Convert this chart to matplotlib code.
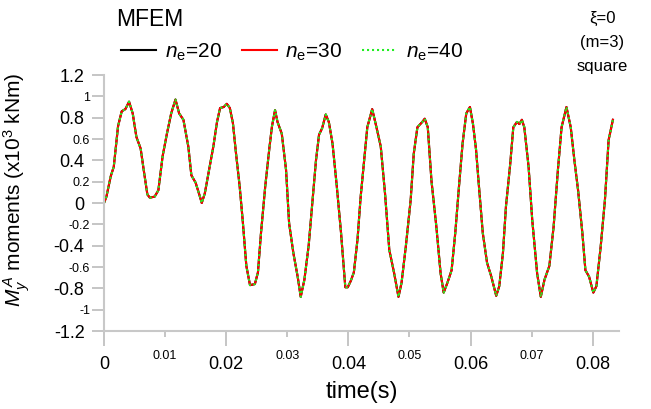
import numpy as np
import matplotlib
matplotlib.use("Agg")
import matplotlib.pyplot as plt
from matplotlib.ticker import FixedLocator, FuncFormatter

plt.rcParams['font.family'] = ['Liberation Sans', 'DejaVu Sans']
plt.rcParams['mathtext.fontset'] = 'custom'
plt.rcParams['mathtext.rm'] = 'Liberation Sans'
plt.rcParams['mathtext.it'] = 'Liberation Sans:italic'
plt.rcParams['axes.unicode_minus'] = False

# ---- data: moment history at node A (x10^3 kNm) ----
time_s = [0.0000, 0.0004, 0.0011, 0.0016, 0.0023, 0.0029, 0.0035, 0.0041, 0.0047, 0.0053,
          0.0060, 0.0065, 0.0071, 0.0075, 0.0083, 0.0089, 0.0096, 0.0103, 0.0110, 0.0117,
          0.0123, 0.0130, 0.0138, 0.0143, 0.0150, 0.0157, 0.0160, 0.0165, 0.0173, 0.0179,
          0.0185, 0.0190, 0.0196, 0.0201, 0.0206, 0.0211, 0.0216, 0.0222, 0.0227, 0.0233,
          0.0239, 0.0247, 0.0252, 0.0257, 0.0264, 0.0271, 0.0275, 0.0280, 0.0284, 0.0291,
          0.0298, 0.0303, 0.0310, 0.0317, 0.0322, 0.0328, 0.0335, 0.0341, 0.0347, 0.0352,
          0.0357, 0.0363, 0.0368, 0.0374, 0.0381, 0.0388, 0.0395, 0.0399, 0.0404, 0.0409,
          0.0415, 0.0420, 0.0425, 0.0431, 0.0439, 0.0446, 0.0453, 0.0460, 0.0467, 0.0475,
          0.0482, 0.0487, 0.0494, 0.0502, 0.0507, 0.0513, 0.0521, 0.0525, 0.0530, 0.0536,
          0.0544, 0.0551, 0.0556, 0.0562, 0.0569, 0.0575, 0.0581, 0.0587, 0.0593, 0.0599,
          0.0604, 0.0609, 0.0613, 0.0620, 0.0627, 0.0634, 0.0642, 0.0647, 0.0653, 0.0658,
          0.0665, 0.0670, 0.0676, 0.0680, 0.0684, 0.0688, 0.0695, 0.0701, 0.0709, 0.0715,
          0.0721, 0.0729, 0.0736, 0.0743, 0.0749, 0.0757, 0.0764, 0.0770, 0.0776, 0.0783,
          0.0788, 0.0794, 0.0801, 0.0806, 0.0813, 0.0820, 0.0826, 0.0833]
moment = [0.00, 0.06, 0.25, 0.34, 0.72, 0.86, 0.88, 0.95, 0.84, 0.62,
          0.51, 0.31, 0.08, 0.05, 0.06, 0.12, 0.44, 0.65, 0.84, 0.97,
          0.84, 0.78, 0.53, 0.26, 0.19, 0.06, 0.00, 0.09, 0.34, 0.53,
          0.76, 0.89, 0.90, 0.93, 0.89, 0.75, 0.47, 0.16, -0.16, -0.59,
          -0.77, -0.76, -0.65, -0.28, 0.16, 0.53, 0.72, 0.87, 0.76, 0.65,
          0.31, -0.19, -0.47, -0.69, -0.88, -0.72, -0.40, 0.00, 0.40, 0.64,
          0.70, 0.83, 0.76, 0.56, 0.16, -0.28, -0.79, -0.79, -0.73, -0.65,
          -0.34, 0.05, 0.35, 0.71, 0.88, 0.71, 0.53, 0.09, -0.44, -0.66,
          -0.88, -0.75, -0.41, 0.03, 0.46, 0.71, 0.76, 0.79, 0.71, 0.21,
          -0.22, -0.66, -0.84, -0.75, -0.63, -0.28, 0.15, 0.56, 0.84, 0.90,
          0.74, 0.50, 0.21, -0.28, -0.56, -0.69, -0.87, -0.78, -0.47, -0.03,
          0.37, 0.71, 0.76, 0.74, 0.78, 0.71, 0.34, -0.16, -0.66, -0.88,
          -0.72, -0.59, -0.22, 0.31, 0.71, 0.90, 0.71, 0.40, 0.12, -0.28,
          -0.63, -0.69, -0.84, -0.78, -0.41, 0.03, 0.59, 0.78]
# the three meshes give the same curve at this scale
m_ne20 = moment
m_ne30 = moment
m_ne40 = moment

series_labels = [r"$n_{\mathrm{e}}$=20", r"$n_{\mathrm{e}}$=30", r"$n_{\mathrm{e}}$=40"]
x_major = [0, 0.02, 0.04, 0.06, 0.08]
x_minor = [0.01, 0.03, 0.05, 0.07]
y_major = [-1.2, -0.8, -0.4, 0, 0.4, 0.8, 1.2]
y_minor = [-1.0, -0.6, -0.2, 0.2, 0.6, 1.0]

fig = plt.figure(figsize=(6.51, 4.09), dpi=100)
ax = fig.add_axes([104/651, 1 - 331/409, 515/651, 256/409])

ax.plot(time_s, m_ne20, color="black", lw=1.5, label=series_labels[0])
ax.plot(time_s, m_ne30, color="#ff0000", lw=1.5, label=series_labels[1])
ax.plot(time_s, m_ne40, color="#22ee22", lw=1.5, ls=(0, (1, 1.4)), label=series_labels[2])

ax.set_xlim(0, 0.0843)
ax.set_ylim(-1.2, 1.2)

for s in ["top", "right"]:
    ax.spines[s].set_visible(False)
for s in ["left", "bottom"]:
    ax.spines[s].set_color("#c8c8c8")
    ax.spines[s].set_linewidth(1.5)

fmt = FuncFormatter(lambda v, p: f"{v:g}" if abs(v) > 1e-9 else "0")
ax.xaxis.set_major_locator(FixedLocator(x_major))
ax.xaxis.set_minor_locator(FixedLocator(x_minor))
ax.yaxis.set_major_locator(FixedLocator(y_major))
ax.yaxis.set_minor_locator(FixedLocator(y_minor))
for axis in (ax.xaxis, ax.yaxis):
    axis.set_major_formatter(fmt)
    axis.set_minor_formatter(fmt)

ax.tick_params(axis="x", which="major", length=11, width=1.3, color="#c0c0c0",
               labelsize=13, pad=7)
ax.tick_params(axis="x", which="minor", length=4.5, width=1.3, color="#c0c0c0",
               labelsize=9, pad=9)
ax.tick_params(axis="y", which="major", length=8.5, width=1.3, color="#c0c0c0",
               labelsize=13, pad=5.5)
ax.tick_params(axis="y", which="minor", length=8.5, width=1.3, color="#c0c0c0",
               labelsize=9, pad=1.5)

ax.set_xlabel("time(s)", fontsize=17, labelpad=6)
ax.set_ylabel(r"$M_y^{\,A}$ moments (x10$^3$ kNm)", fontsize=15)
ax.yaxis.set_label_coords(-0.14, 0.55)

fig.text(116/651, 1 - 26/409, "MFEM", fontsize=16.5, va="baseline", ha="left")
fig.legend(loc="center left", bbox_to_anchor=(121/651, 1 - 52/409), ncol=3,
           frameon=False, fontsize=15, handlelength=1.7, handletextpad=0.4,
           columnspacing=0.95, borderpad=0, borderaxespad=0)

for txt, yy in [("ξ=0", 18), ("(m=3)", 43), ("square", 67)]:
    fig.text(602/651, 1 - yy/409, txt, fontsize=12, ha="center", va="center")

fig.savefig("out.png", dpi=100)
